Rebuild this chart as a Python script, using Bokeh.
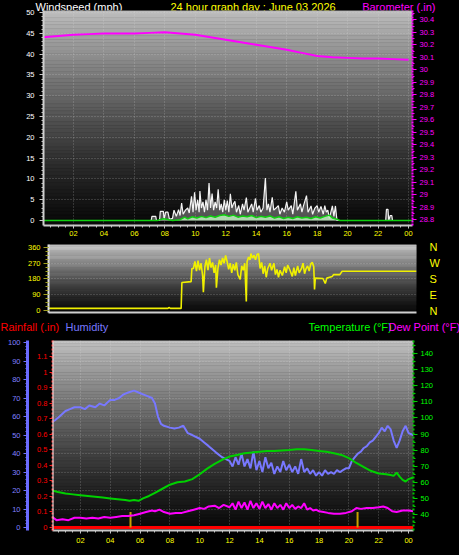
import numpy as np
from bokeh.plotting import figure
from bokeh.models import LinearAxis, Range1d, FixedTicker, Label, Span, Grid
from bokeh.layouts import column
from bokeh.embed import file_html
from bokeh.resources import INLINE

FONT = "Liberation Sans"
W = 459

# ---------------- data ----------------
TITLE = "24 hour graph day : June 03 2026"
hour_ticks = [2, 4, 6, 8, 10, 12, 14, 16, 18, 20, 22, 24]
hour_labels = ["02", "04", "06", "08", "10", "12", "14", "16", "18", "20", "22", "00"]
wind_ticks = [0, 5, 10, 15, 20, 25, 30, 35, 40, 45, 50]
baro_ticks = [28.8, 28.9, 29.0, 29.1, 29.2, 29.3, 29.4, 29.5, 29.6, 29.7, 29.8, 29.9,
              30.0, 30.1, 30.2, 30.3, 30.4]
dir_ticks = [0, 90, 180, 270, 360]
dir_labels = ["N", "E", "S", "W", "N"]
hum_ticks = [0, 10, 20, 30, 40, 50, 60, 70, 80, 90, 100]
rain_ticks = [0.0, 0.1, 0.2, 0.3, 0.4, 0.5, 0.6, 0.7, 0.8, 0.9, 1.0, 1.1]
temp_ticks = [40, 50, 60, 70, 80, 90, 100, 110, 120, 130, 140]

baro_hours = [0, 1, 2, 3, 4, 5, 6, 7, 8, 9, 10, 11, 12, 13, 14, 15, 16, 17, 18, 19, 20, 21, 22, 23, 24]
baro_inhg = [30.26, 30.27, 30.28, 30.285, 30.29, 30.29, 30.29, 30.295, 30.30, 30.29, 30.28,
             30.26, 30.24, 30.22, 30.20, 30.18, 30.16, 30.135, 30.11, 30.10, 30.095, 30.09,
             30.09, 30.085, 30.08]

gust_hours = [0.0, 7.1, 7.15, 7.4, 7.45, 7.65, 7.7, 7.9, 7.95, 8.05, 8.2, 8.3, 8.5, 8.6, 8.75, 8.9,
              9.0, 9.1, 9.2, 9.35, 9.5, 9.6, 9.75, 9.85, 9.95, 10.05, 10.15, 10.25, 10.3, 10.4,
              10.5, 10.6, 10.7, 10.8, 10.9, 11.0, 11.1, 11.2, 11.3, 11.4, 11.5, 11.6, 11.7, 11.8,
              11.9, 12.0, 12.1, 12.2, 12.3, 12.4, 12.5, 12.6, 12.7, 12.85, 12.95, 13.1, 13.2,
              13.35, 13.45, 13.6, 13.7, 13.8, 13.95, 14.05, 14.2, 14.3, 14.45, 14.6, 14.7, 14.8,
              14.9, 15.05, 15.15, 15.3, 15.45, 15.55, 15.7, 15.85, 16.0, 16.1, 16.3, 16.4, 16.6,
              16.7, 16.9, 17.0, 17.1, 17.3, 17.4, 17.6, 17.7, 17.85, 18.0, 18.1, 18.25, 18.4,
              18.5, 18.6, 18.7, 18.8, 19.0, 19.1, 19.2, 19.3, 22.5, 22.55, 22.65, 22.7, 22.8,
              22.9, 22.95, 24.3]
gust_mph = [0, 0, 1.0, 1.0, 0, 0, 2.2, 2.2, 0.3, 2.0, 2.0, 0.3, 0.5, 2.5, 1.0, 2.6,
            1.2, 4.2, 1.5, 2.5, 3.0, 1.8, 5.8, 2.0, 6.8, 2.5, 5.0, 2.0, 7.1, 3.0,
            4.5, 2.0, 5.0, 2.5, 9.0, 3.0, 6.5, 2.5, 4.5, 3.0, 7.5, 2.5, 4.0, 2.0,
            5.0, 2.5, 4.8, 2.0, 6.4, 3.0, 4.0, 4.6, 2.0, 3.6, 1.5, 4.0, 2.5,
            5.5, 2.0, 3.2, 4.0, 2.0, 5.3, 2.5, 3.6, 2.0, 3.0, 10.2, 2.5, 4.0,
            2.0, 5.6, 2.5, 3.0, 3.6, 1.5, 3.0, 2.0, 4.5, 2.5, 3.6, 1.5, 7.0,
            2.5, 4.0, 2.0, 3.5, 6.0, 2.0, 3.5, 1.5, 3.0, 3.6, 2.0, 3.4, 1.5,
            3.6, 2.0, 2.5, 0.5, 3.5, 1.0, 3.5, 0, 0, 2.7, 2.7, 0, 1.2,
            1.2, 0, 0]

avg_hours = [0, 7.5, 7.9, 8.1, 8.5, 9.0, 9.3, 9.5, 9.8, 10.1, 10.4, 10.7, 11.0, 11.3, 11.6, 11.9,
             12.2, 12.5, 12.8, 13.1, 13.4, 13.7, 14.0, 14.3, 14.6, 14.9, 15.2, 15.5, 15.8, 16.1,
             16.4, 16.7, 17.0, 17.3, 17.6, 17.9, 18.2, 18.5, 18.8, 19.0, 19.3, 19.5, 24.3]
avg_mph = [0, 0, 0.4, 0.3, 0, 0.2, 0.8, 0.4, 0.9, 0.6, 1.0, 0.7, 1.1, 0.8, 1.2, 1.4,
           1.0, 1.3, 0.8, 1.1, 0.9, 1.2, 0.7, 1.0, 0.8, 1.1, 0.6, 0.9, 0.5, 0.8,
           0.5, 0.9, 0.6, 0.8, 0.5, 0.9, 0.6, 1.0, 1.3, 0.6, 0.3, 0, 0]

dir_hours = [0, 7.8, 7.85, 7.95, 8.65, 8.7, 9.3, 9.35,
             9.45, 9.55, 9.65, 9.75, 9.85, 9.95, 10.05, 10.1, 10.2, 10.3, 10.4, 10.5, 10.6, 10.7,
             10.8, 10.9, 10.95, 11.05, 11.15, 11.25, 11.35, 11.45, 11.55, 11.65, 11.75, 11.85,
             11.95, 12.05, 12.15, 12.25, 12.35, 12.5, 12.6, 12.7, 12.8, 12.9, 12.95, 13.05,
             13.15, 13.2, 13.3, 13.4, 13.5, 13.6, 13.7, 13.8, 13.9, 14.0, 14.1, 14.2, 14.3,
             14.45, 14.55, 14.7, 14.8, 14.9, 15.0, 15.1, 15.25, 15.4, 15.5, 15.6, 15.75, 15.9,
             16.0, 16.1, 16.25, 16.35, 16.5, 16.6, 16.7, 16.8, 16.9, 17.0, 17.1, 17.2, 17.3,
             17.35, 17.4, 17.9, 18.05, 18.15, 18.5, 18.6, 19.0, 19.15, 24.0]
dir_deg = [12, 12, 18, 12, 12, 160, 165, 240,
           240, 280, 225, 285, 230, 270, 200, 105, 250, 290, 230, 300, 245, 275,
           215, 260, 130, 240, 290, 260, 300, 270, 314, 280, 235, 270,
           215, 265, 230, 275, 205, 177, 255, 230, 270, 51, 280, 305,
           290, 325, 300, 315, 290, 320, 325, 240, 275, 210, 255, 190, 240,
           270, 230, 270, 205, 235, 190, 230, 200, 250, 215, 260, 230, 195,
           245, 200, 255, 215, 240, 270, 210, 240, 255, 225, 265, 275, 250,
           120, 185, 183, 154, 185, 194, 205, 205, 224, 224]

hum_hours = [0.1, 0.3, 0.6, 1.0, 1.3, 1.6, 2.0, 2.3, 2.6, 3.0, 3.3, 3.6, 4.0, 4.3, 4.6, 4.9, 5.2,
             5.6, 5.9, 6.2, 6.5, 6.8, 7.0, 7.2, 7.4, 7.6, 8.0, 8.3, 8.6, 8.9, 9.2, 9.5, 10.0,
             10.3, 10.6, 11.1, 11.5, 12.0, 12.2, 12.4, 12.6, 12.8, 13.0, 13.2, 13.4, 13.6, 13.8,
             14.0, 14.2, 14.4, 14.6, 14.8, 15.0, 15.2, 15.4, 15.6, 15.8, 16.0, 16.2, 16.4, 16.6,
             16.8, 17.0, 17.2, 17.4, 17.6, 17.8, 18.0, 18.2, 18.4, 18.6, 18.8, 19.0, 19.2, 19.4,
             19.6, 19.8, 20.0, 20.2, 20.4, 20.6, 20.8, 21.0, 21.2, 21.4, 21.6, 21.8, 22.0, 22.2,
             22.4, 22.6, 22.8, 23.0, 23.2, 23.4, 23.6, 23.8, 24.0, 24.3]
hum_pct = [57, 58, 60, 63, 64, 65, 65, 64, 66, 65, 67, 66, 69, 69, 70, 72, 73,
           74, 73, 72, 71, 70, 67, 60, 56, 55, 54, 53.5, 54, 55, 51, 50, 48,
           46, 44, 40.5, 38, 36, 33, 38, 34, 40, 33, 37, 32, 41, 31,
           36, 30, 38, 32, 35, 29, 33, 30, 36, 31, 34, 30, 33, 29,
           37, 30, 32, 29, 31, 28, 30, 28, 31, 29, 30, 29, 31, 30,
           31, 32, 32, 36, 38, 40, 41, 43, 44, 46, 47, 49, 51, 54,
           52, 55, 53, 47, 43, 47, 52, 55, 51, 50]

temp_hours = [0.1, 0.5, 1.0, 1.5, 2.0, 2.5, 3.0, 3.5, 4.0, 4.5, 5.0, 5.3, 5.6, 5.9, 6.2, 6.6, 7.0,
              7.5, 8.0, 8.5, 9.0, 9.5, 10.0, 10.5, 11.0, 11.5, 12.0, 12.5, 13.0, 13.5, 14.0, 14.5,
              15.0, 15.5, 16.0, 16.5, 17.0, 17.5, 18.0, 18.5, 19.0, 19.5, 20.0, 20.5, 21.0, 21.5,
              22.0, 22.5, 22.8, 23.0, 23.2, 23.4, 23.6, 23.8, 24.0, 24.3]
temp_f = [55, 54, 53, 52.5, 52, 51.5, 51, 50.5, 50, 49.5, 49, 48.5, 49, 48.5, 50, 51.5, 53.5,
          56, 58.5, 60, 60.5, 62, 65, 68.5, 71.5, 74, 76, 77, 78, 78.5, 79, 79.5,
          79.5, 79.8, 80, 80.5, 80.5, 80, 79.5, 79, 78, 77, 75, 72, 69.5, 67,
          65.5, 65, 64.5, 64, 66, 63.5, 61.5, 60.5, 62, 63]

dew_hours = [0.1, 0.4, 0.8, 1.2, 1.6, 2.0, 2.4, 2.8, 3.2, 3.6, 4.0, 4.4, 4.8, 5.2, 5.6, 6.0, 6.4,
             6.8, 7.0, 7.3, 7.6, 8.0, 8.4, 8.8, 9.2, 9.6, 10.0, 10.3, 10.6, 11.0, 11.3, 11.6,
             12.0, 12.2, 12.4, 12.6, 12.8, 13.0, 13.2, 13.4, 13.6, 13.8, 14.0, 14.2, 14.4, 14.6,
             14.8, 15.0, 15.2, 15.4, 15.6, 15.8, 16.0, 16.2, 16.4, 16.6, 16.8, 17.0, 17.2, 17.4,
             17.6, 17.8, 18.0, 18.3, 18.6, 19.0, 19.4, 19.8, 20.2, 20.5, 20.8, 21.2, 21.6, 22.0,
             22.3, 22.6, 22.9, 23.2, 23.6, 24.0, 24.3]
dew_f = [38.5, 36.5, 37, 36.5, 38, 38, 37.5, 38, 37.5, 38.5, 38, 38.5, 39, 39, 39.5, 40.5, 41.5,
         42.5, 42, 43, 41.5, 40.5, 41, 41, 42, 43, 44, 43.5, 45, 45.5, 44, 46,
         44.5, 47, 43, 48, 44, 47.5, 43, 48.5, 44, 47, 43.5, 48, 44, 46.5,
         43, 47, 44, 46, 43, 47, 44, 46, 43.5, 45, 44, 47, 43, 44,
         42.5, 43, 42, 41.5, 41, 40.5, 40.5, 41, 42, 44, 43.5, 44, 44, 44.5,
         45, 44, 42, 41.5, 42.5, 42.5, 42]

rain_hours = [0.13, 24.33]
rain_in = [0.0, 0.0]
rain_mark_hours = [5.36, 20.58]
rain_mark_in = [0.1, 0.1]


# ---------------- helpers ----------------
def gray(v):
    v = int(max(0, min(255, v)))
    return "#%02x%02x%02x" % (v, v, v)


def gradient(p, x0, x1, y0, y1, top=190, bottom=10, n=60, y_range_name="default"):
    edges = np.linspace(y0, y1, n + 1)
    t = (np.arange(n) + 0.5) / n
    cols = [gray(bottom + (top - bottom) * tt ** 1.3) for tt in t]
    r = p.quad(left=x0, right=x1, bottom=edges[:-1], top=edges[1:], fill_color=cols,
               line_color=cols, line_width=0.5, y_range_name=y_range_name)
    r.level = "image"


def style_axis(ax, tick_color, line_color, label_color, ticks, minor, overrides=None,
               line_width=1, dash=None, tick_out=4, minor_out=2, standoff=3, size="7.5px"):
    ax.ticker = FixedTicker(ticks=ticks, minor_ticks=minor)
    ax.axis_line_color = line_color
    ax.axis_line_width = line_width
    if dash:
        ax.axis_line_dash = dash
    ax.major_tick_line_color = tick_color
    ax.minor_tick_line_color = tick_color
    ax.major_tick_out = tick_out
    ax.major_tick_in = 0
    ax.minor_tick_out = minor_out
    ax.minor_tick_in = 0
    ax.major_label_text_color = label_color
    ax.major_label_text_font = FONT
    ax.major_label_text_font_size = size
    ax.major_label_standoff = standoff
    if overrides:
        ax.major_label_overrides = overrides


def new_fig(fw, fh, left, right, top, bottom, xr, yr, y_axis_location="left", **kw):
    p = figure(frame_width=fw, frame_height=fh, x_range=xr, y_range=yr,
               min_border_left=left, min_border_right=right,
               min_border_top=top, min_border_bottom=bottom,
               output_backend="svg", toolbar_location=None,
               background_fill_color="black", outline_line_color=None,
               y_axis_location=y_axis_location, frame_align=False, **kw)
    return p


def header(height, items):
    """A thin black strip holding a row of coloured caption texts."""
    h = figure(frame_width=W, frame_height=height, x_range=Range1d(0, W),
               y_range=Range1d(0, height), min_border=0, output_backend="svg",
               toolbar_location=None, x_axis_location=None, y_axis_location=None,
               background_fill_color="black", border_fill_color="black",
               outline_line_color=None, frame_align=False)
    h.grid.visible = False
    for txt, x, yc, color, align in items:
        h.add_layout(Label(x=x, y=height - yc, x_units="screen", y_units="screen",
                           text=txt, text_color=color, text_font=FONT,
                           text_font_size="11px", text_align=align,
                           text_baseline="middle"))
    return h


hour_over = {t: l for t, l in zip(hour_ticks, hour_labels)}
hour_minor = list(np.arange(0, 24.51, 0.5))
grid_dash = "1 2"

# ---------------- header 1 ----------------
h1 = header(14, [("Windspeed (mph)", 35, 6, "#ffffff", "left"),
                 (TITLE, 170, 6, "#ffff00", "left"),
                 ("Barometer (.in)", 435, 6, "#ff00ff", "right")])

# ---------------- top panel: wind + barometer ----------------
X1 = (0.03, 24.26)
Y1 = (-1.2, 50.5)
B1 = (28.754, 30.474)
# transparent border and a negative top margin let the panel's top tick label
# share the caption row, as in the original
p1 = new_fig(369, 215, 43, W - 412, 2, 15, Range1d(*X1), Range1d(*Y1),
             border_fill_color=None, margin=(-6, 0, 0, 0))
p1.extra_y_ranges = {"baro": Range1d(*B1)}
gradient(p1, X1[0], X1[1], Y1[0], Y1[1])

style_axis(p1.xaxis[0], "#c8c8c8", "#c8c8c8", "#ffff00", hour_ticks, hour_minor,
           overrides=hour_over, line_width=2, tick_out=3, minor_out=2, standoff=2)
style_axis(p1.yaxis[0], "#c8c8c8", "#d0d0d0", "#ffffff", wind_ticks, list(range(0, 51)),
           line_width=2, tick_out=4, minor_out=2, standoff=5)
baro_axis = LinearAxis(y_range_name="baro")
style_axis(baro_axis, "#ff00ff", "#ff00ff", "#ff00ff", baro_ticks,
           [round(28.75 + 0.05 * i, 2) for i in range(35)],
           overrides={t: "%g" % t for t in baro_ticks}, line_width=2, dash="2 1",
           tick_out=4, minor_out=2, standoff=3)
p1.add_layout(baro_axis, "right")

p1.xgrid.ticker = FixedTicker(ticks=hour_ticks)
p1.ygrid.ticker = FixedTicker(ticks=wind_ticks[1:])
for g in (p1.xgrid[0], p1.ygrid[0]):
    g.grid_line_color = "#e0e0e0"
    g.grid_line_alpha = 0.35
    g.grid_line_dash = grid_dash

p1.varea(x=gust_hours, y1=0, y2=gust_mph, fill_color="white", fill_alpha=0.3)
p1.line(gust_hours, gust_mph, line_color="#f4f4f4", line_width=1.2)
p1.varea(x=avg_hours, y1=0, y2=avg_mph, fill_color="#c0f0c0", fill_alpha=0.85)
p1.line(avg_hours, avg_mph, line_color="#10d010", line_width=1.5)
p1.line(baro_hours, baro_inhg, y_range_name="baro", line_color="#ff00ff", line_width=2)

# ---------------- middle panel: wind direction ----------------
X2 = (0.0, 24.0)
Y2 = (-11.4, 377.0)
p2 = new_fig(368, 68, 48, W - 416, 4, 7, Range1d(*X2), Range1d(*Y2),
             border_fill_color="black")
gradient(p2, X2[0], X2[1], Y2[0], Y2[1], top=205, bottom=12)
style_axis(p2.yaxis[0], "#a0a020", "#e0e0e0", "#ffff00", dir_ticks,
           list(np.arange(0, 361, 22.5)), line_width=2, tick_out=5, minor_out=3, standoff=3)
style_axis(p2.xaxis[0], "#d0d0d0", "#d0d0d0", "#000000", [], [], line_width=2,
           tick_out=0, minor_out=0, standoff=0, size="0px")
p2.xaxis[0].major_label_text_color = None
p2.xgrid.visible = False
p2.ygrid.ticker = FixedTicker(ticks=[90, 180, 270])
p2.ygrid[0].grid_line_color = "#e0e0e0"
p2.ygrid[0].grid_line_alpha = 0.35
p2.ygrid[0].grid_line_dash = grid_dash
dir_axis = LinearAxis()
style_axis(dir_axis, None, None, "#ffff00", dir_ticks, [],
           overrides={t: l for t, l in zip(dir_ticks, dir_labels)},
           tick_out=0, minor_out=0, standoff=13, size="11px")
dir_axis.axis_line_color = None
dir_axis.major_tick_line_color = None
dir_axis.minor_tick_line_color = None
p2.add_layout(dir_axis, "right")
p2.line(dir_hours, dir_deg, line_color="#f0f000", line_width=1.6)

# ---------------- header 2 ----------------
h2 = header(14, [("Rainfall (.in)", 0, 7, "#ff0000", "left"),
                 ("Humidity", 65, 7, "#7878ff", "left"),
                 ("Temperature (°F)", 308, 7, "#00ff00", "left"),
                 ("Dew Point (°F)", 388, 7, "#ff00ff", "left")])

# ---------------- bottom panel: rain / humidity / temperature ----------------
X3 = (0.13, 24.33)
H3 = (-1.6, 101.1)
R3 = (-0.019, 1.203)
T3 = (30.06, 148.1)
p3 = new_fig(361, 190, 52, W - 413, 7, 25, Range1d(*X3), Range1d(*H3), y_axis_location=None,
             border_fill_color="black")
p3.extra_y_ranges = {"rain": Range1d(*R3), "temp": Range1d(*T3)}
for g in p3.ygrid:
    g.visible = False
gradient(p3, X3[0], X3[1], H3[0], H3[1], top=192, bottom=10)

rain_axis = LinearAxis(y_range_name="rain")
style_axis(rain_axis, "#ff2020", "#ff3030", "#ff0000", rain_ticks, [],
           overrides={t: "%g" % t for t in rain_ticks}, line_width=2, dash="2 2",
           tick_out=3, minor_out=0, standoff=2)
rain_axis.axis_label = " "
rain_axis.axis_label_standoff = 0
rain_axis.axis_label_text_font_size = "3px"
p3.add_layout(rain_axis, "left")
hum_axis = LinearAxis()
style_axis(hum_axis, "#7070ff", "#6a6aff", "#8080ff", hum_ticks, list(range(0, 101, 2)),
           line_width=3, tick_out=4, minor_out=2, standoff=3)
p3.add_layout(hum_axis, "left")
temp_axis = LinearAxis(y_range_name="temp")
style_axis(temp_axis, "#00d000", "#00c000", "#00ff00", temp_ticks, list(range(30, 150, 5)),
           line_width=2, dash="2 2", tick_out=4, minor_out=2, standoff=3)
p3.add_layout(temp_axis, "right")
style_axis(p3.xaxis[0], "#c8c8c8", "#c8c8c8", "#ffff00", hour_ticks, hour_minor,
           overrides=hour_over, line_width=2, tick_out=3, minor_out=2, standoff=4)

p3.xgrid.ticker = FixedTicker(ticks=hour_ticks)
p3.xgrid[0].grid_line_color = "#e0e0e0"
p3.xgrid[0].grid_line_alpha = 0.35
p3.xgrid[0].grid_line_dash = grid_dash
p3.add_layout(Grid(dimension=1, ticker=FixedTicker(ticks=hum_ticks[1:]),
                   grid_line_color="#e0e0e0", grid_line_alpha=0.3, grid_line_dash=grid_dash))
p3.add_layout(Span(location=X3[0], dimension="height", line_color="#f0f0f0", line_width=2))

p3.line(rain_hours, rain_in, y_range_name="rain", line_color="#ff0000", line_width=3)
p3.segment(x0=rain_mark_hours, y0=[0, 0], x1=rain_mark_hours, y1=rain_mark_in,
           y_range_name="rain", line_color="#c8a000", line_width=2)
p3.line(hum_hours, hum_pct, line_color="#7878ff", line_width=2)
p3.line(temp_hours, temp_f, y_range_name="temp", line_color="#00d000", line_width=2)
p3.line(dew_hours, dew_f, y_range_name="temp", line_color="#ff00ff", line_width=2)

layout = column(h1, p1, p2, h2, p3, spacing=0, styles={"background-color": "black"})
open("out.html", "w").write(file_html(layout, INLINE, title="Weather graph"))
